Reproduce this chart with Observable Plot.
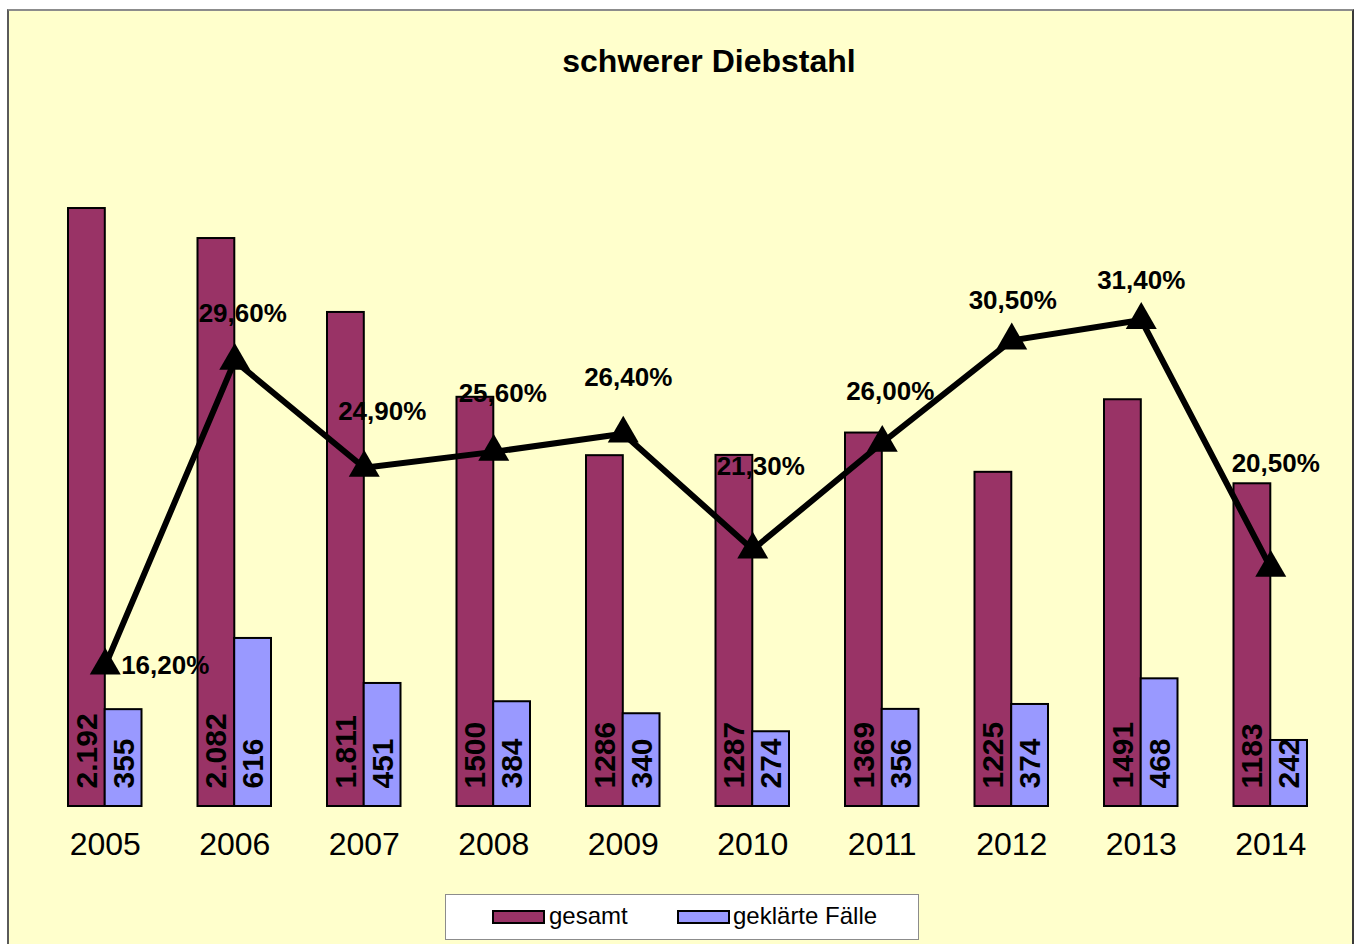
<!DOCTYPE html>
<html>
<head>
<meta charset="utf-8">
<script src="https://cdn.jsdelivr.net/npm/d3@7"></script>
<script src="https://cdn.jsdelivr.net/npm/@observablehq/plot@0.6"></script>
<style>
  html, body { margin: 0; padding: 0; background: #ffffff; width: 1357px; height: 944px; overflow: hidden; font-family: "Liberation Sans", Arial, sans-serif; }
  #frame { position: absolute; left: 7px; top: 9px; width: 1343px; height: 960px; background: #FFFFCC;
           border-left: 2px solid #5a5a5a; border-right: 2px solid #3a3a3a; border-top: 2px solid #8c8c8c; }
  #title { position: absolute; left: 0; width: 1418px; top: 43px; text-align: center; font-weight: bold; font-size: 32px; color: #000; }
  #chart { position: absolute; left: 0; top: 0; }
  #legend { position: absolute; left: 445px; top: 894px; width: 472px; height: 44px; background: #fff; border: 1px solid #8c8c8c; }
  .sw { position: absolute; top: 15px; width: 49px; height: 10px; border: 2px solid #000; }
  .lt { position: absolute; top: 7px; font-size: 24px; color: #000; }
</style>
</head>
<body>
<div id="frame"></div>
<div id="title">schwerer Diebstahl</div>
<div id="chart"></div>
<div id="legend"></div>
<script>
const years = [2005, 2006, 2007, 2008, 2009, 2010, 2011, 2012, 2013, 2014];
const gesamt = [2192, 2082, 1811, 1500, 1286, 1287, 1369, 1225, 1491, 1183];
const gesamtLabels = ["2.192", "2.082", "1.811", "1500", "1286", "1287", "1369", "1225", "1491", "1183"];
const geklaert = [355, 616, 451, 384, 340, 274, 356, 374, 468, 242];
const quote = [16.2, 29.6, 24.9, 25.6, 26.4, 21.3, 26.0, 30.5, 31.4, 20.5];
const seriesNames = ["gesamt", "geklärte Fälle"];
const seriesColors = ["#993366", "#9999FF"];

// layout: secondary (percent) axis range and label nudges
const pctMin = 10, pctMax = 40, yMax = 2500;
const pctNudge = [[60, 0], [8, -47], [18, -56], [9, -58], [5, -56], [8, -83], [8, -51], [1, -40], [0, -39], [5, -104]];

const data = years.map((y, i) => ({year: y, gesamt: gesamt[i], gLabel: gesamtLabels[i], geklaert: geklaert[i], quote: quote[i]}));
const pctY = p => (p - pctMin) / (pctMax - pctMin) * yMax;
const fmtPct = p => p.toFixed(2).replace(".", ",") + "%";

const font = "'Liberation Sans', Arial, sans-serif";

const pctLabels = data.map((d, i) => Plot.text([d], {
  x: "year", y: d => pctY(d.quote), text: d => fmtPct(d.quote),
  dx: pctNudge[i][0], dy: pctNudge[i][1], fontSize: 26, fontWeight: "bold", fill: "#000"
}));

const chart = Plot.plot({
  width: 1357, height: 900,
  marginLeft: 40, marginRight: 22, marginTop: 124, marginBottom: 94,
  style: {background: "transparent", fontFamily: font, overflow: "visible"},
  x: {type: "band", domain: years, padding: 0, round: false, label: null},
  y: {domain: [0, yMax], axis: null},
  marks: [
    Plot.barY(data, {x: "year", y: "gesamt", fill: seriesColors[0], stroke: "#000", strokeWidth: 2, insetLeft: 28, insetRight: 64.7}),
    Plot.barY(data, {x: "year", y: "geklaert", fill: seriesColors[1], stroke: "#000", strokeWidth: 2, insetLeft: 64.7, insetRight: 28}),
    Plot.text(data, {x: "year", y: d => 0, text: "gLabel", rotate: -90, textAnchor: "start", dx: -18, dy: -18, fontSize: 30, fontWeight: "bold", fill: "#000"}),
    Plot.text(data, {x: "year", y: d => 0, text: d => String(d.geklaert), rotate: -90, textAnchor: "start", dx: 19, dy: -18, fontSize: 30, fontWeight: "bold", fill: "#000"}),
    Plot.line(data, {x: "year", y: d => pctY(d.quote), stroke: "#000", strokeWidth: 6}),
    Plot.dot(data, {x: "year", y: d => pctY(d.quote), symbol: "triangle", r: 11.5, fill: "#000", stroke: "none"}),
    ...pctLabels,
    Plot.axisX({tickSize: 0, tickPadding: 26, fontSize: 32, tickFormat: d => String(d), fill: "#000", label: null})
  ]
});
document.getElementById("chart").appendChild(chart);

// legend
const legend = document.getElementById("legend");
const legendPos = [[46, 103], [231, 287]];
seriesNames.forEach((name, i) => {
  const sw = document.createElement("div");
  sw.className = "sw";
  sw.style.left = legendPos[i][0] + "px";
  sw.style.background = seriesColors[i];
  legend.appendChild(sw);
  const t = document.createElement("div");
  t.className = "lt";
  t.style.left = legendPos[i][1] + "px";
  t.textContent = name;
  legend.appendChild(t);
});
</script>
</body>
</html>
